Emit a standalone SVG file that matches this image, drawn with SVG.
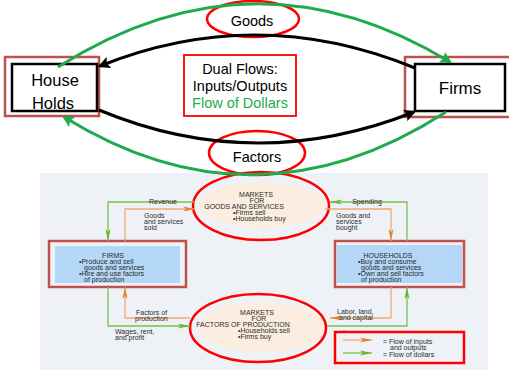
<svg xmlns="http://www.w3.org/2000/svg" width="509" height="370" viewBox="0 0 509 370">
<style>
.big{font-family:"Liberation Sans",Arial,sans-serif;fill:#000}
.sm{font-family:"Liberation Sans",Arial,sans-serif;font-size:7px;fill:#2a2a2a}
.red{fill:none;stroke:#f00;stroke-width:2.5}
.brn{fill:none;stroke:#c0504d;stroke-width:2.5}
.blk{fill:#fff;stroke:#000;stroke-width:2.5}
.beige{fill:#fbeee0;stroke:none}
.blue{fill:#b4d7f8;stroke:none}
.og{fill:none;stroke:#f0aa70;stroke-width:1.3}
.gr{fill:none;stroke:#78c04a;stroke-width:1.3}
.bigG{fill:none;stroke:#1faa4e;stroke-width:3}
.bigB{fill:none;stroke:#000;stroke-width:3}
</style>
<defs>
<marker id="mo" viewBox="0 0 12 6" refX="12" refY="3" markerWidth="12" markerHeight="6" markerUnits="userSpaceOnUse" orient="auto"><path d="M0,0.5 L12,3 L0,5.5 L3,3z" fill="#e8802a"/></marker>
<marker id="mg" viewBox="0 0 12 6" refX="12" refY="3" markerWidth="12" markerHeight="6" markerUnits="userSpaceOnUse" orient="auto"><path d="M0,0.5 L12,3 L0,5.5 L3,3z" fill="#62b833"/></marker>
<marker id="mB" viewBox="0 0 10 10" refX="8" refY="5" markerWidth="12" markerHeight="12" markerUnits="userSpaceOnUse" orient="auto"><path d="M0,0 L10,5 L0,10 L2,5z" fill="#000"/></marker>
<marker id="mG" viewBox="0 0 10 10" refX="8" refY="5" markerWidth="12" markerHeight="12" markerUnits="userSpaceOnUse" orient="auto"><path d="M0,0 L10,5 L0,10 L2,5z" fill="#1faa4e"/></marker>
</defs>
<rect width="509" height="370" fill="#fff"/>
<rect x="40" y="173" width="448" height="197" fill="#eef2f7"/>

<g id="markets-goods">
<ellipse class="beige" cx="262" cy="205" rx="63" ry="23"/>
<ellipse class="red" cx="261" cy="206" rx="68" ry="34"/>
<text class="sm" x="256" y="197" text-anchor="middle">MARKETS</text>
<text class="sm" x="257" y="203" text-anchor="middle">FOR</text>
<text class="sm" x="244" y="209" text-anchor="middle">GOODS AND SERVICES</text>
<text class="sm" x="233" y="215">•Firms sell</text>
<text class="sm" x="233" y="221">•Households buy</text>
</g>

<g id="markets-factors">
<ellipse class="beige" cx="262" cy="327" rx="64" ry="25"/>
<ellipse class="red" cx="258" cy="328" rx="68" ry="34"/>
<text class="sm" x="257" y="315" text-anchor="middle">MARKETS</text>
<text class="sm" x="259" y="321" text-anchor="middle">FOR</text>
<text class="sm" x="243" y="327" text-anchor="middle">FACTORS OF PRODUCTION</text>
<text class="sm" x="238" y="333">•Households sell</text>
<text class="sm" x="238" y="339">•Firms buy</text>
</g>

<g id="firms-box">
<rect class="blue" x="55" y="246" width="125" height="37"/>
<rect class="brn" x="49" y="241" width="137" height="46"/>
<text class="sm" x="113" y="258" text-anchor="middle">FIRMS</text>
<text class="sm" x="79" y="264">•Produce and sell</text>
<text class="sm" x="84" y="270">goods and services</text>
<text class="sm" x="79" y="276">•Hire and use factors</text>
<text class="sm" x="84" y="282">of production</text>
</g>

<g id="households-box">
<rect class="blue" x="337" y="245" width="125" height="38"/>
<rect class="brn" x="335" y="241" width="129" height="46"/>
<text class="sm" x="388" y="258" text-anchor="middle">HOUSEHOLDS</text>
<text class="sm" x="358" y="264">•Buy and consume</text>
<text class="sm" x="361" y="270">goods and services</text>
<text class="sm" x="358" y="276">•Own and sell factors</text>
<text class="sm" x="361" y="282">of production</text>
</g>

<g id="small-connectors">
<path class="gr" d="M195,202 H108 V241" marker-end="url(#mg)"/>
<path class="og" d="M125,241 V209 H195" marker-end="url(#mo)"/>
<path class="gr" d="M407,241 V202 H330" marker-end="url(#mg)"/>
<path class="og" d="M325,209 H391 V241" marker-end="url(#mo)"/>
<path class="og" d="M190,318 H125 V287" marker-end="url(#mo)"/>
<path class="gr" d="M108,287 V326 H190" marker-end="url(#mg)"/>
<path class="og" d="M391,287 V318 H330" marker-end="url(#mo)"/>
<path class="gr" d="M327,326 H407 V287" marker-end="url(#mg)"/>
<text class="sm" x="163" y="204" text-anchor="middle">Revenue</text>
<text class="sm" x="144" y="218">Goods</text>
<text class="sm" x="144" y="224">and services</text>
<text class="sm" x="144" y="230">sold</text>
<text class="sm" x="367" y="204" text-anchor="middle">Spending</text>
<text class="sm" x="336" y="218">Goods and</text>
<text class="sm" x="336" y="224">services</text>
<text class="sm" x="336" y="230">bought</text>
<text class="sm" x="136" y="315">Factors of</text>
<text class="sm" x="135" y="321">production</text>
<text class="sm" x="115" y="334">Wages, rent,</text>
<text class="sm" x="115" y="340">and profit</text>
<text class="sm" x="337" y="314">Labor, land,</text>
<text class="sm" x="339" y="320">and capital</text>
<text class="sm" x="343" y="335">Income</text>
</g>

<g id="legend">
<rect x="335" y="332" width="129" height="31" fill="#eef2f7" stroke="#f00" stroke-width="2.5"/>
<line class="og" x1="343" y1="340" x2="372" y2="340" marker-end="url(#mo)"/>
<line class="gr" x1="343" y1="353" x2="372" y2="353" marker-end="url(#mg)"/>
<text class="sm" x="383" y="344">= Flow of inputs</text>
<text class="sm" x="390" y="350">and outputs</text>
<text class="sm" x="383" y="357">= Flow of dollars</text>
</g>

<g id="households">
<rect class="brn" x="5" y="57" width="94" height="59"/>
<rect class="blk" x="12" y="64" width="85" height="47"/>
<text class="big" x="55" y="86" font-size="16.5" text-anchor="middle">House</text>
<text class="big" x="53" y="109" font-size="16.5" text-anchor="middle">Holds</text>
</g>

<g id="firms">
<rect class="brn" x="405" y="57" width="110" height="60"/>
<rect class="blk" x="415" y="64" width="90" height="47"/>
<text class="big" x="460" y="94" font-size="17" text-anchor="middle">Firms</text>
</g>

<g id="goods">
<ellipse class="red" cx="253" cy="19" rx="46" ry="18"/>
<text class="big" x="252" y="26" font-size="14.5" text-anchor="middle">Goods</text>
</g>

<g id="factors">
<ellipse class="red" cx="257" cy="153" rx="48" ry="22"/>
<text class="big" x="257" y="162" font-size="14.5" text-anchor="middle">Factors</text>
</g>

<g id="dual-flows">
<rect x="184" y="55" width="112" height="61" fill="#fff" stroke="#f00" stroke-width="1.8"/>
<text class="big" x="240" y="74" font-size="14.5" text-anchor="middle">Dual Flows:</text>
<text class="big" x="240" y="91" font-size="14.5" text-anchor="middle">Inputs/Outputs</text>
<text class="big" x="240" y="108" font-size="14.5" text-anchor="middle" style="fill:#1faa4e">Flow of Dollars</text>
</g>

<g id="main-connectors">
<path class="bigG" d="M58,67 Q254,-57 450,62" marker-end="url(#mG)"/>
<path class="bigB" d="M415,68 Q257,3 100,66" marker-end="url(#mB)"/>
<path class="bigB" d="M99,110 Q255,175 414,112" marker-end="url(#mB)"/>
<path class="bigG" d="M446,112 Q255,235 64,117" marker-end="url(#mG)"/>
</g>
</svg>
